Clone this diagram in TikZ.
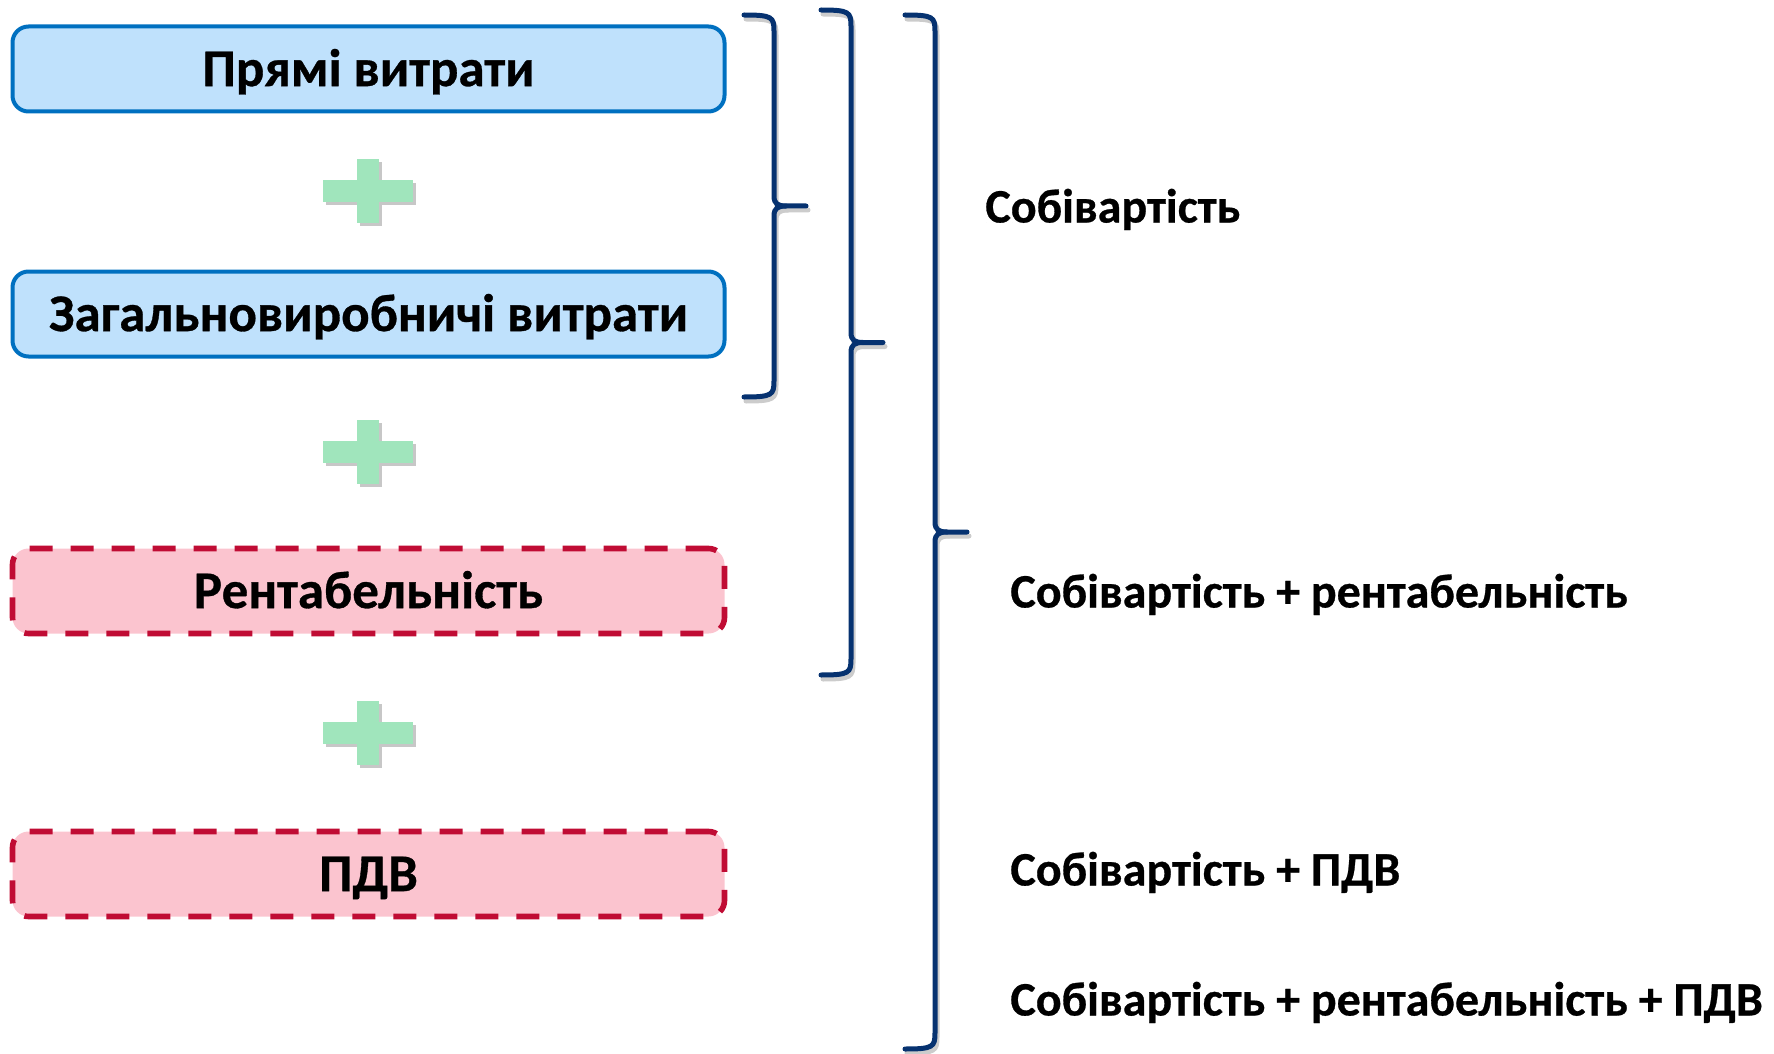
\documentclass[tikz,border=0pt]{standalone}
\usepackage{fontspec}
\setmainfont{Carlito}[BoldFeatures={FakeBold=0.6}]
\definecolor{boxblue}{RGB}{0,112,192}
\definecolor{boxfill}{RGB}{191,225,252}
\definecolor{marginred}{RGB}{192,12,52}
\definecolor{marginfill}{RGB}{251,196,207}
\definecolor{plusgreen}{RGB}{160,229,188}
\definecolor{bracenavy}{RGB}{6,50,112}
\begin{document}
\begin{tikzpicture}[x=0.5pt, y=-0.5pt,
    costbox/.style={draw=boxblue, fill=boxfill, line width=2pt, rounded corners=8pt,
        minimum width=356pt, minimum height=42.5pt, inner sep=0pt,
        font=\bfseries\fontsize{26.5}{30}\selectfont, text height=17.1pt, text depth=0pt},
    addbox/.style={costbox, draw=marginred, fill=marginfill, line width=2.8pt,
        dash pattern=on 11.5pt off 9pt},
    total/.style={anchor=west, inner sep=0pt,
        font=\bfseries\fontsize{24}{28}\selectfont, text height=15.5pt, text depth=0pt},
    brace/.style={draw=bracenavy, line width=2.5pt, line cap=round}]
    \useasboundingbox (0,0) rectangle (1774,1054);
    % cost components
    \node[costbox] (direct) at (368.5,69) {Прямі витрати};
    \node[costbox] (overhead) at (368.5,314) {Загальновиробничі витрати};
    \node[addbox] (profit) at (368.5,591) {Рентабельність};
    \node[addbox] (vat) at (368.5,874) {ПДВ};
    % plus signs
    \foreach \y in {191,452,733} {
        \fill[black!22] (326,\y-8) rectangle (416,\y+14);
        \fill[black!22] (360,\y-29) rectangle (382,\y+35);
        \fill[plusgreen] (323,\y-11) rectangle (413,\y+11);
        \fill[plusgreen] (357,\y-32) rectangle (379,\y+32);
    }
    % braces
    \foreach \xe/\yt/\yb in {744/15/397, 821/10/675, 905/15/1049} {
        \pgfmathsetmacro{\xs}{\xe+30}
        \pgfmathsetmacro{\xt}{\xe+62}
        \pgfmathsetmacro{\ym}{(\yt+\yb)/2}
        \foreach \dx/\dy/\col in {2/4/black!20, 0/0/bracenavy} {
            \begin{scope}[shift={(\dx,\dy)}]
            \draw[brace, draw=\col] (\xe,\yt) .. controls (\xs-2,\yt) and (\xs,\yt+2) .. (\xs,\yt+16)
                -- (\xs,\ym-10) .. controls (\xs,\ym-2) and (\xs+4,\ym) .. (\xs+12,\ym) -- (\xt,\ym);
            \draw[brace, draw=\col] (\xs+12,\ym) .. controls (\xs+4,\ym) and (\xs,\ym+2) .. (\xs,\ym+10)
                -- (\xs,\yb-16) .. controls (\xs,\yb-2) and (\xs-2,\yb) .. (\xe,\yb);
            \end{scope}
        }
    }
    % totals
    \node[total] (cost) at (985,207) {Собівартість};
    \node[total] (costprofit) at (1010,592) {Собівартість + рентабельність};
    \node[total] (costvat) at (1010,870) {Собівартість + ПДВ};
    \node[total] (price) at (1010,1000) {Собівартість + рентабельність + ПДВ};
\end{tikzpicture}
\end{document}
